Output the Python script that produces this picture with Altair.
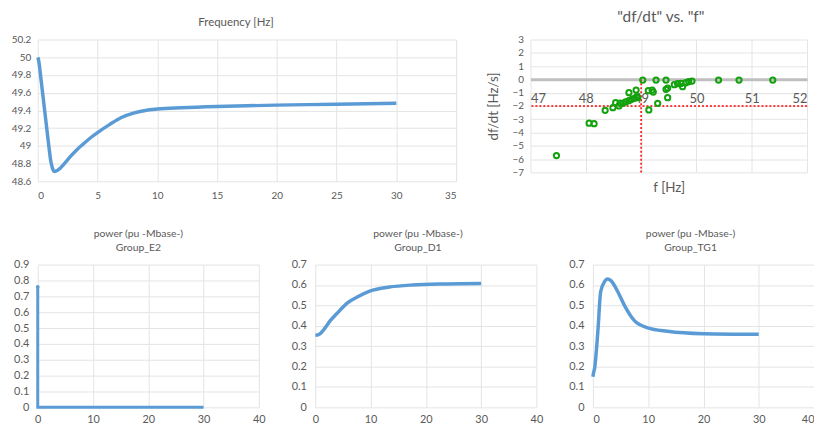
import altair as alt
import pandas as pd

FONT = "Lato"
TXT = "#595959"
GRID = "#E4E4E4"
BLUE = "#5B9BD5"
GREEN = "#13A10E"

# ---- Frequency [Hz] ----
freq_t = [0, 0.05, 0.3, 0.5, 0.7, 0.9, 1.1, 1.25, 1.4, 1.6, 1.9, 2.3, 2.8, 3.3, 3.8, 4.5, 5.0, 6.0, 7.0, 8.0, 9.0, 10.0, 12.0, 15.0, 20.0, 25.0, 30.0]
freq_f = [50.0, 49.98, 49.72, 49.49, 49.26, 49.03, 48.82, 48.74, 48.71, 48.72, 48.75, 48.81, 48.89, 48.96, 49.02, 49.10, 49.15, 49.24, 49.32, 49.37, 49.40, 49.415, 49.43, 49.445, 49.46, 49.47, 49.48]
freq_xticks = [0, 5, 10, 15, 20, 25, 30, 35]
freq_yticks = [48.6, 48.8, 49.0, 49.2, 49.4, 49.6, 49.8, 50.0, 50.2]

# ---- df/dt vs f ----
dfdt_f = [47.47, 48.06, 48.15, 48.35, 48.49, 48.54, 48.60, 48.62, 48.67, 48.72, 48.78, 48.78, 48.83, 48.88, 48.91, 48.92, 48.94,
          49.03, 49.14, 49.13, 49.20, 49.22, 49.27, 49.30, 49.45, 49.45, 49.48, 49.48, 49.60, 49.66, 49.72, 49.75, 49.81, 49.86, 49.92,
          50.40, 50.77, 51.38]
dfdt_r = [-5.73, -3.30, -3.33, -2.33, -2.13, -1.75, -2.00, -1.78, -1.80, -1.70, -1.60, -1.00, -1.50, -1.42, -0.80, -1.30, -1.38,
          -0.05, -2.30, -0.85, -0.80, -0.95, -0.05, -1.80, -0.75, -0.05, -0.65, -1.38, -0.40, -0.32, -0.30, -0.55, -0.25, -0.17, -0.13,
          -0.05, -0.05, -0.05]
dfdt_xticks = [47, 48, 49, 50, 51, 52]
dfdt_yticks = [-7, -6, -5, -4, -3, -2, -1, 0, 1, 2, 3]
rocof_limit = [-2]
freq_limit = [49]

# ---- power panels ----
e2_t = [0, 0, 30]
e2_p = [0.76, 0, 0]
d1_t = [0, 0.6, 1.5, 2.7, 3.9, 5.7, 7.5, 9.85, 13.4, 17.6, 23.6, 30]
d1_p = [0.353, 0.356, 0.38, 0.425, 0.46, 0.51, 0.54, 0.57, 0.59, 0.60, 0.605, 0.607]
tg1_t = [0, 0.05, 0.3, 0.9, 1.4, 2.1, 2.6, 3.3, 4.5, 5.7, 7.5, 9.9, 13.5, 20, 30]
tg1_p = [0.15, 0.16, 0.19, 0.375, 0.567, 0.616, 0.629, 0.62, 0.567, 0.50, 0.425, 0.39, 0.373, 0.361, 0.358]
pow_xticks = [0, 10, 20, 30, 40]
e2_yticks = [0, 0.1, 0.2, 0.3, 0.4, 0.5, 0.6, 0.7, 0.8, 0.9]
d_yticks = [0, 0.1, 0.2, 0.3, 0.4, 0.5, 0.6, 0.7]
pow_title = "power (pu -Mbase-)"


def title2(group, dx):
    return alt.TitleParams([pow_title, group], fontSize=10.5, lineHeight=14, offset=5, dx=dx,
                           font=FONT, color=TXT, fontWeight="normal")


# Frequency panel
df_freq = pd.DataFrame({"t": freq_t, "f": freq_f})
freq_chart = alt.Chart(df_freq).mark_line(color=BLUE, strokeWidth=3.5, interpolate="monotone").encode(
    x=alt.X("t:Q", scale=alt.Scale(domain=[0, 35], nice=False),
            axis=alt.Axis(values=freq_xticks, title=None, labelFontSize=10, labelPadding=9, labelOverlap=False)),
    y=alt.Y("f:Q", scale=alt.Scale(domain=[48.6, 50.2], nice=False, zero=False),
            axis=alt.Axis(values=freq_yticks, format="~g", title=None, labelFontSize=10, labelPadding=7,
                          labelOverlap=False)),
).properties(width=422, height=143,
             title=alt.TitleParams("Frequency [Hz]", fontSize=11.5, offset=6, dx=-11))

# df/dt scatter
df_sc = pd.DataFrame({"f": dfdt_f, "r": dfdt_r})
xs = alt.Scale(domain=[47, 52], nice=False)
ys = alt.Scale(domain=[-7, 3], nice=False)
x_ax = alt.Axis(values=dfdt_xticks, title="f [Hz]", labelFontSize=13, labelPadding=14, offset=-94,
                domain=True, domainColor="#BFBFBF", domainWidth=3, labelFlush=True, labelOverlap=False,
                titleFontSize=13.5, titleY=102, titleBaseline="top")
y_ax = alt.Axis(values=dfdt_yticks, title="df/dt [Hz/s]", labelFontSize=10, labelPadding=7,
                labelOverlap=False, titleFontSize=13.5, titlePadding=12)
pts = alt.Chart(df_sc).mark_point(shape="circle", filled=False, color=GREEN, strokeWidth=2, size=28, opacity=1).encode(
    x=alt.X("f:Q", scale=xs, axis=x_ax),
    y=alt.Y("r:Q", scale=ys, axis=y_ax),
)
h_rule = alt.Chart(pd.DataFrame({"r": rocof_limit})).mark_rule(color="#FF0000", strokeDash=[2, 2], strokeWidth=1.5).encode(
    y=alt.Y("r:Q", scale=ys, axis=y_ax))
v_rule = alt.Chart(pd.DataFrame({"f": freq_limit, "r0": [0], "r1": [-7]})).mark_rule(
    color="#FF0000", strokeDash=[2, 2], strokeWidth=1.5).encode(
    x=alt.X("f:Q", scale=xs, axis=x_ax), y=alt.Y("r0:Q", scale=ys, axis=y_ax), y2="r1:Q")
sc_chart = alt.layer(h_rule, v_rule, pts).properties(
    width=279, height=134,
    title=alt.TitleParams('"df/dt" vs. "f"', fontSize=15.5, offset=9, dx=-8))


def pow_enc(yt, ymax, flush):
    return dict(
        x=alt.X("t:Q", scale=alt.Scale(domain=[0, 40], nice=False),
                axis=alt.Axis(values=pow_xticks, title=None, labelFontSize=11, labelPadding=6, labelFlush=flush,
                              labelOverlap=False)),
        y=alt.Y("p:Q", scale=alt.Scale(domain=[0, ymax], nice=False),
                axis=alt.Axis(values=yt, format="~g", title=None, labelFontSize=11, labelPadding=9,
                              labelOverlap=False)),
    )


def power_chart(t, p, yt, ymax, flush=False):
    d = pd.DataFrame({"t": t, "p": p})
    return alt.Chart(d).mark_line(color=BLUE, strokeWidth=3.5, interpolate="monotone").encode(**pow_enc(yt, ymax, flush))


df_e2 = pd.DataFrame({"t": e2_t, "p": e2_p, "o": list(range(len(e2_t)))})
e2_line = alt.Chart(df_e2).mark_line(color=BLUE, strokeWidth=3).encode(
    order=alt.Order("o:Q"), **pow_enc(e2_yticks, 0.9, False))
e2_dot = alt.Chart(df_e2.iloc[:1]).mark_circle(color=BLUE, size=14, opacity=1).encode(**pow_enc(e2_yticks, 0.9, False))
e2_chart = alt.layer(e2_line, e2_dot).properties(width=223, height=144, title=title2("Group_E2", -10))
d1_chart = power_chart(d1_t, d1_p, d_yticks, 0.7).properties(width=223, height=144, title=title2("Group_D1", -8))
tg1_chart = power_chart(tg1_t, tg1_p, d_yticks, 0.7, flush=True).properties(
    width=223, height=144, title=title2("Group_TG1", -13))

top = alt.hconcat(freq_chart, sc_chart, spacing=75, bounds="flush")
bottom = alt.hconcat(e2_chart, d1_chart, tg1_chart, spacing=57, bounds="flush")

chart = alt.vconcat(top, bottom, spacing=29).properties(
    padding={"left": 3, "top": 0, "right": 0, "bottom": 0},
    background="white",
).configure_view(stroke=None).configure_axis(
    labelFont=FONT, titleFont=FONT, labelColor=TXT, titleColor=TXT, gridColor=GRID, gridWidth=1,
    domain=False, ticks=False, titleFontWeight="normal", labelOverlap=False,
).configure_title(font=FONT, color=TXT, fontWeight="normal")

chart.save("out.html", embed_options={"renderer": "svg", "actions": False})
